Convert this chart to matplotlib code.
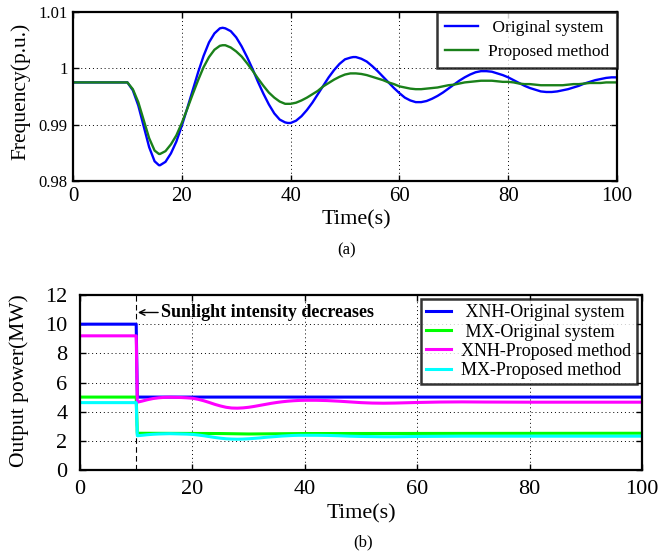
import matplotlib
matplotlib.use("Agg")
import matplotlib.pyplot as plt

# ---------------- data: (a) frequency ----------------
t_freq = ([0, 10, 11, 12, 13, 14, 15, 15.8]
          + list(range(16, 28)) + [27.5]
          + list(range(28, 40)) + [39.5]
          + list(range(40, 52)) + [51.5]
          + list(range(52, 64)) + [63.5]
          + list(range(64, 76)) + [75.5]
          + list(range(76, 88)) + [87.5]
          + list(range(88, 101)))

freq_original = [0.9975, 0.9975, 0.9961, 0.9934, 0.9897, 0.9860, 0.9835, 0.9828,
                 0.9828, 0.9834, 0.9849, 0.9870, 0.9898, 0.9929, 0.9961, 0.9993, 1.0022, 1.0046, 1.0062, 1.0071, 1.0072,
                 1.0071, 1.0066, 1.0055, 1.0039, 1.0020, 0.9999, 0.9976, 0.9955, 0.9936, 0.9920, 0.9909, 0.9904, 0.9903,
                 0.9903, 0.9907, 0.9915, 0.9926, 0.9939, 0.9954, 0.9969, 0.9984, 0.9997, 1.0008, 1.0016, 1.0019, 1.0020,
                 1.0020, 1.0017, 1.0012, 1.0004, 0.9995, 0.9985, 0.9975, 0.9965, 0.9956, 0.9948, 0.9943, 0.9940, 0.9940,
                 0.9940, 0.9942, 0.9946, 0.9951, 0.9957, 0.9964, 0.9971, 0.9978, 0.9984, 0.9989, 0.9993, 0.9995, 0.9995,
                 0.9995, 0.9994, 0.9991, 0.9988, 0.9984, 0.9979, 0.9974, 0.9969, 0.9965, 0.9962, 0.9959, 0.9958, 0.9958,
                 0.9958, 0.9959, 0.9961, 0.9963, 0.9966, 0.9969, 0.9973, 0.9976, 0.9979, 0.9981, 0.9983, 0.9984, 0.9984]

freq_proposed = [0.9975, 0.9975, 0.9963, 0.9940, 0.9908, 0.9876, 0.9854, 0.9848,
                 0.9848, 0.9853, 0.9865, 0.9881, 0.9903, 0.9928, 0.9954, 0.9979, 1.0002, 1.0020, 1.0033, 1.0040, 1.0041,
                 1.0041, 1.0037, 1.0030, 1.0021, 1.0009, 0.9996, 0.9982, 0.9969, 0.9957, 0.9948, 0.9941, 0.9937, 0.9937,
                 0.9937, 0.9939, 0.9943, 0.9948, 0.9954, 0.9960, 0.9968, 0.9974, 0.9980, 0.9985, 0.9989, 0.9991, 0.9991,
                 0.9991, 0.9990, 0.9988, 0.9985, 0.9982, 0.9979, 0.9975, 0.9972, 0.9968, 0.9966, 0.9964, 0.9963, 0.9963,
                 0.9963, 0.9964, 0.9965, 0.9966, 0.9968, 0.9970, 0.9971, 0.9973, 0.9975, 0.9976, 0.9977, 0.9978, 0.9978,
                 0.9978, 0.9978, 0.9977, 0.9976, 0.9976, 0.9975, 0.9973, 0.9972, 0.9972, 0.9971, 0.9970, 0.9970, 0.9970,
                 0.9970, 0.9970, 0.9970, 0.9971, 0.9972, 0.9972, 0.9973, 0.9974, 0.9974, 0.9974, 0.9975, 0.9975, 0.9975]

# ---------------- data: (b) output power ----------------
t_xnh_orig = [0, 10, 10.2, 100]
p_xnh_orig = [10.0, 10.0, 5.0, 5.0]

t_mx_orig = [0, 10, 10.2, 25, 30, 40, 100]
p_mx_orig = [5.0, 5.0, 2.52, 2.50, 2.47, 2.50, 2.52]

t_prop = ([0, 10, 10.2] + list(range(11, 41)) + list(range(42, 61, 2))
          + [64, 68, 72, 80, 90, 100])
p_xnh_prop = [9.2, 9.2, 4.65,
              4.72, 4.82, 4.90, 4.95, 4.98, 4.99, 4.98, 4.97, 4.95, 4.92,
              4.85, 4.75, 4.63, 4.50, 4.39, 4.30, 4.25, 4.24, 4.26, 4.30,
              4.36, 4.43, 4.50, 4.57, 4.63, 4.68, 4.72, 4.75, 4.77, 4.78,
              4.78, 4.76, 4.72, 4.67, 4.62, 4.59, 4.58, 4.59, 4.61, 4.63,
              4.66, 4.67, 4.66, 4.65, 4.65, 4.65]
p_mx_prop = [4.62, 4.62, 2.35,
             2.38, 2.42, 2.45, 2.47, 2.48, 2.49, 2.48, 2.47, 2.46, 2.44,
             2.40, 2.35, 2.29, 2.23, 2.18, 2.14, 2.12, 2.11, 2.12, 2.14,
             2.17, 2.20, 2.24, 2.27, 2.30, 2.33, 2.35, 2.37, 2.38, 2.38,
             2.38, 2.37, 2.35, 2.32, 2.30, 2.29, 2.28, 2.28, 2.29, 2.30,
             2.31, 2.32, 2.32, 2.32, 2.32, 2.32]

event_time = 10
xticks = [0, 20, 40, 60, 80, 100]
freq_yticks = [0.98, 0.99, 1.0, 1.01]
freq_yticklabels = ["0.98", "0.99", "1", "1.01"]
power_yticks = [0, 2, 4, 6, 8, 10, 12]

# ---------------- style ----------------
plt.rcParams['font.family'] = ['Liberation Serif', 'DejaVu Serif']

W, H = 660, 555
fig = plt.figure(figsize=(W / 100, H / 100), dpi=100)


def px_axes(l, t, r, b):
    return fig.add_axes([l / W, 1 - b / H, (r - l) / W, (b - t) / H])


def style(ax, xfs, yfs, xpad, ypad):
    for s in ax.spines.values():
        s.set_linewidth(1.6)
    ax.tick_params(direction='in', top=True, right=True, length=4, width=1.0)
    ax.tick_params(axis='x', labelsize=xfs, pad=xpad)
    ax.tick_params(axis='y', labelsize=yfs, pad=ypad)
    ax.grid(True, linestyle=(0, (1, 3)), color='k', linewidth=0.7)


# ---- (a) ----
ax1 = px_axes(73, 12, 617, 181)
ax1.plot(t_freq, freq_original, color=(0, 0, 1), lw=1.7, label=' Original system')
ax1.plot(t_freq, freq_proposed, color=(0.1, 0.5, 0.1), lw=1.7, label='Proposed method')
ax1.set_xlim(0, 100)
ax1.set_ylim(0.98, 1.01)
ax1.set_xticks(xticks)
ax1.set_yticks(freq_yticks)
ax1.set_yticklabels(freq_yticklabels)
style(ax1, 15, 12, 4, 4)
ax1.set_xlabel('Time(s)', fontsize=16)
ax1.set_ylabel('Frequency(p.u.)', fontsize=15.5)
ax1.xaxis.set_label_coords(0.52, -0.172)
ax1.yaxis.set_label_coords(-0.079, 0.53)
leg1 = ax1.legend(loc='upper right', bbox_to_anchor=(1.0, 1.0), borderaxespad=0,
                  fontsize=12.5, frameon=True, fancybox=False, edgecolor='k',
                  handlelength=1.9, handletextpad=0.6, labelspacing=0.45,
                  borderpad=0.45)
leg1.get_frame().set_linewidth(1.8)
fig.text(347 / W, 1 - 250 / H, '(a)', ha='center', va='center', fontsize=12)

# ---- (b) ----
ax2 = px_axes(80, 295, 642, 470)
ax2.axvline(event_time, color='k', ls=(0, (5, 3)), lw=0.8, zorder=1)
ax2.plot(t_xnh_orig, p_xnh_orig, color=(0, 0, 1), lw=2.2, label=' XNH-Original system')
ax2.plot(t_mx_orig, p_mx_orig, color=(0, 1, 0), lw=2.2, label=' MX-Original system')
ax2.plot(t_prop, p_xnh_prop, color=(1, 0, 1), lw=2.2, label='XNH-Proposed method')
ax2.plot(t_prop, p_mx_prop, color=(0, 1, 1), lw=2.2, label='MX-Proposed method')
ax2.set_xlim(0, 100)
ax2.set_ylim(0, 12)
ax2.set_xticks(xticks)
ax2.set_yticks(power_yticks)
style(ax2, 16, 16, 7, 9)
ax2.set_xlabel('Time(s)', fontsize=16)
ax2.set_ylabel('Output power(MW)', fontsize=15.5)
ax2.xaxis.set_label_coords(0.5, -0.194)
ax2.yaxis.set_label_coords(-0.091, 0.51)
ax2.annotate('', xy=(10.3, 10.8), xytext=(13.9, 10.8),
             arrowprops=dict(arrowstyle='->', color='k', lw=1.0, shrinkA=0, shrinkB=0))
ax2.text(14.4, 10.8, 'Sunlight intensity decreases', ha='left', va='center',
         fontsize=13, fontweight='bold')
leg2 = ax2.legend(loc='upper right', bbox_to_anchor=(0.991, 0.977), borderaxespad=0,
                  fontsize=13, frameon=True, fancybox=False, edgecolor='k',
                  handlelength=1.4, handletextpad=0.55, labelspacing=0.12,
                  borderpad=0.3)
leg2.get_frame().set_linewidth(1.8)
fig.text(363 / W, 1 - 542 / H, '(b)', ha='center', va='center', fontsize=12)

fig.savefig('out.png', dpi=100)
